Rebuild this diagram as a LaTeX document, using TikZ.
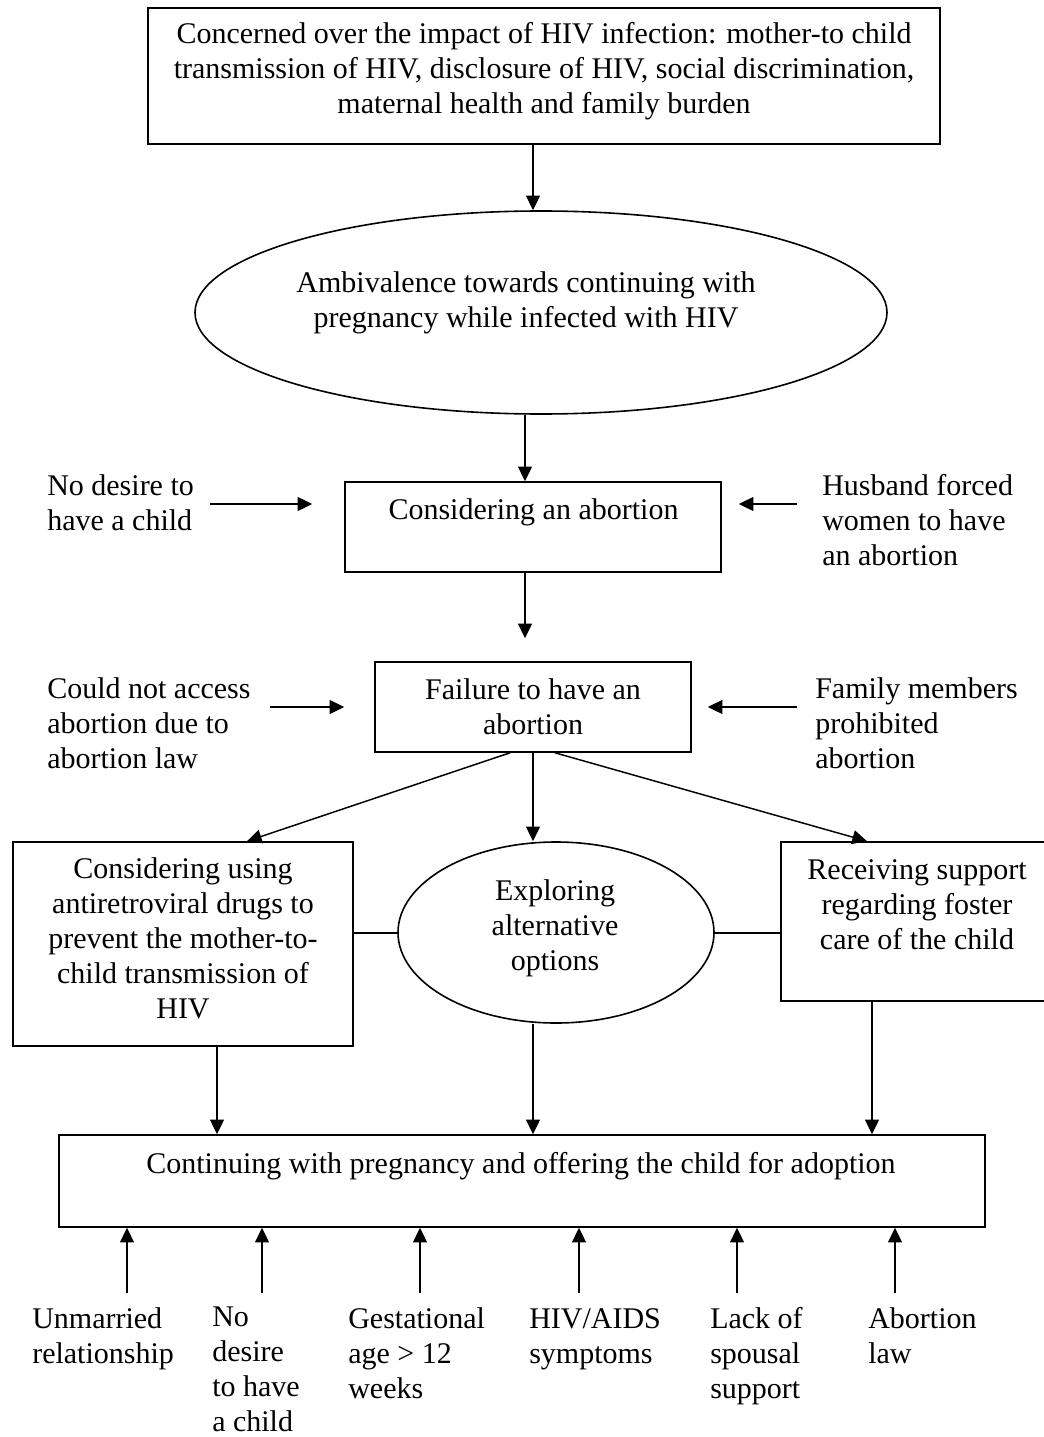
\documentclass[tikz,border=0pt]{standalone}
\usepackage{fontspec}
\setmainfont{Liberation Serif}
\usetikzlibrary{arrows.meta,shapes.geometric}
\tikzset{
  boxpx/.style={draw, line width=1.2pt, inner sep=0pt},
  ellpx/.style={draw, ellipse, line width=1.2pt, inner sep=0pt},
  % multi-line texts are placed by the baseline of their last line
  txt/.style={inner sep=0pt, anchor=base, align=center},
  ltxt/.style={inner sep=0pt, anchor=base west, align=left},
  arr/.style={line width=1.1pt, -{Triangle[length=11pt,width=10.5pt]}},
  link/.style={line width=1.5pt}
}
\begin{document}
\begin{tikzpicture}[x=0.75pt,y=-0.75pt,
  font=\fontsize{22.5}{26.25}\selectfont]

% page
\path[use as bounding box, fill=white] (0,0) rectangle (1044,1437);

% shapes
\node[boxpx, minimum width=594pt, minimum height=102pt] (top) at (544,76) {};
\node[ellpx, minimum width=519pt, minimum height=152.25pt] (amb) at (541,312.5) {};
\node[boxpx, minimum width=282pt, minimum height=67.5pt] (consider) at (533,527) {};
\node[boxpx, minimum width=237pt, minimum height=67.5pt] (failure) at (533,707) {};
\node[boxpx, minimum width=255pt, minimum height=153pt] (leftbox) at (183,944) {};
\node[ellpx, minimum width=237pt, minimum height=135.75pt] (explore) at (556,932.5) {};
\node[boxpx, minimum width=199.5pt, minimum height=119.25pt] (rightbox) at (914,921.5) {};
\node[boxpx, minimum width=694.5pt, minimum height=69pt] (bottom) at (522,1181) {};

% texts inside the shapes
\node[txt] (toptext) at (544,114) {Concerned over the impact of HIV infection: mother-to child\\
  transmission of HIV, disclosure of HIV, social discrimination,\\
  maternal health and family burden};
\node[txt] (ambtext) at (526,327.5) {Ambivalence towards continuing with\\
  pregnancy while infected with HIV};
\node[txt] (considertext) at (533.5,519) {Considering an abortion};
\node[txt] (failtext) at (533,734) {Failure to have an\\abortion};
\node[txt] (lefttext) at (183,1018) {Considering using\\antiretroviral drugs to\\
  prevent the mother-to-\\child transmission of\\HIV};
\node[txt] (exptext) at (555,970.5) {Exploring\\alternative\\options};
\node[txt] (righttext) at (917,949) {Receiving support\\regarding foster\\care of the child};
\node[txt] (bottomtext) at (521,1173) {Continuing with pregnancy and offering the child for adoption};

% side factors
\node[ltxt] (nodesire) at (47,530) {No desire to\\have a child};
\node[ltxt] (husband) at (822,565) {Husband forced\\women to have\\an abortion};
\node[ltxt] (couldnot) at (47,768) {Could not access\\abortion due to\\abortion law};
\node[ltxt] (family) at (815,768) {Family members\\prohibited\\abortion};

% factors under the adoption box
\node[ltxt] (f1) at (32,1363) {Unmarried\\relationship};
\node[ltxt] (f2) at (212,1431) {No\\desire\\to have\\a child};
\node[ltxt] (f3) at (348,1398) {Gestational\\age > 12\\weeks};
\node[ltxt] (f4) at (529,1363) {HIV/AIDS\\symptoms};
\node[ltxt] (f5) at (710,1398) {Lack of\\spousal\\support};
\node[ltxt] (f6) at (868,1363) {Abortion\\law};

% free ends of the side arrows
\coordinate (s1) at (210,504);
\coordinate (s2) at (797,504);
\coordinate (s3) at (270,707);
\coordinate (s4) at (797,707);
\coordinate (u1) at (127,1293);
\coordinate (u2) at (262,1293);
\coordinate (u3) at (420,1293);
\coordinate (u4) at (579,1293);
\coordinate (u5) at (737,1293);
\coordinate (u6) at (895,1293);

% main flow
\draw[arr] ([xshift=-8.25pt]top.south) -- ([xshift=-8.25pt]top.south |- amb.north);
\draw[arr] ([xshift=-12pt]amb.south) -- ([xshift=-12pt]amb.south |- consider.north);
\draw[arr, shorten >=17.25pt] ([xshift=-6pt]consider.south) -- ([xshift=-6pt]consider.south |- failure.north);

\draw[arr, shorten >=24pt] (s1) -- (s1 -| consider.west);
\draw[arr, shorten >=12.75pt] (s2) -- (s2 -| consider.east);
\draw[arr, shorten >=22.5pt] (s3) -- (s3 -| failure.west);
\draw[arr, shorten >=12pt] (s4) -- (s4 -| failure.east);

\draw[arr] ([xshift=-17.25pt]failure.south) -- ([xshift=48pt]leftbox.north);
\draw[arr] (failure.south) -- (failure.south |- explore.north);
\draw[arr] ([xshift=16.5pt]failure.south) -- ([xshift=-35.25pt]rightbox.north);

\draw[link] (explore.west -| leftbox.east) -- (explore.west);
\draw[link] (explore.east) -- (explore.east -| rightbox.west);

\draw[arr] ([xshift=25.5pt]leftbox.south) -- ([xshift=25.5pt]leftbox.south |- bottom.north);
\draw[arr] (failure.south |- explore.south) -- (failure.south |- bottom.north);
\draw[arr] ([xshift=-31.5pt]rightbox.south) -- ([xshift=-31.5pt]rightbox.south |- bottom.north);

\foreach \u in {u1,u2,u3,u4,u5,u6}
  \draw[arr] (\u) -- (\u |- bottom.south);
\end{tikzpicture}
\end{document}
